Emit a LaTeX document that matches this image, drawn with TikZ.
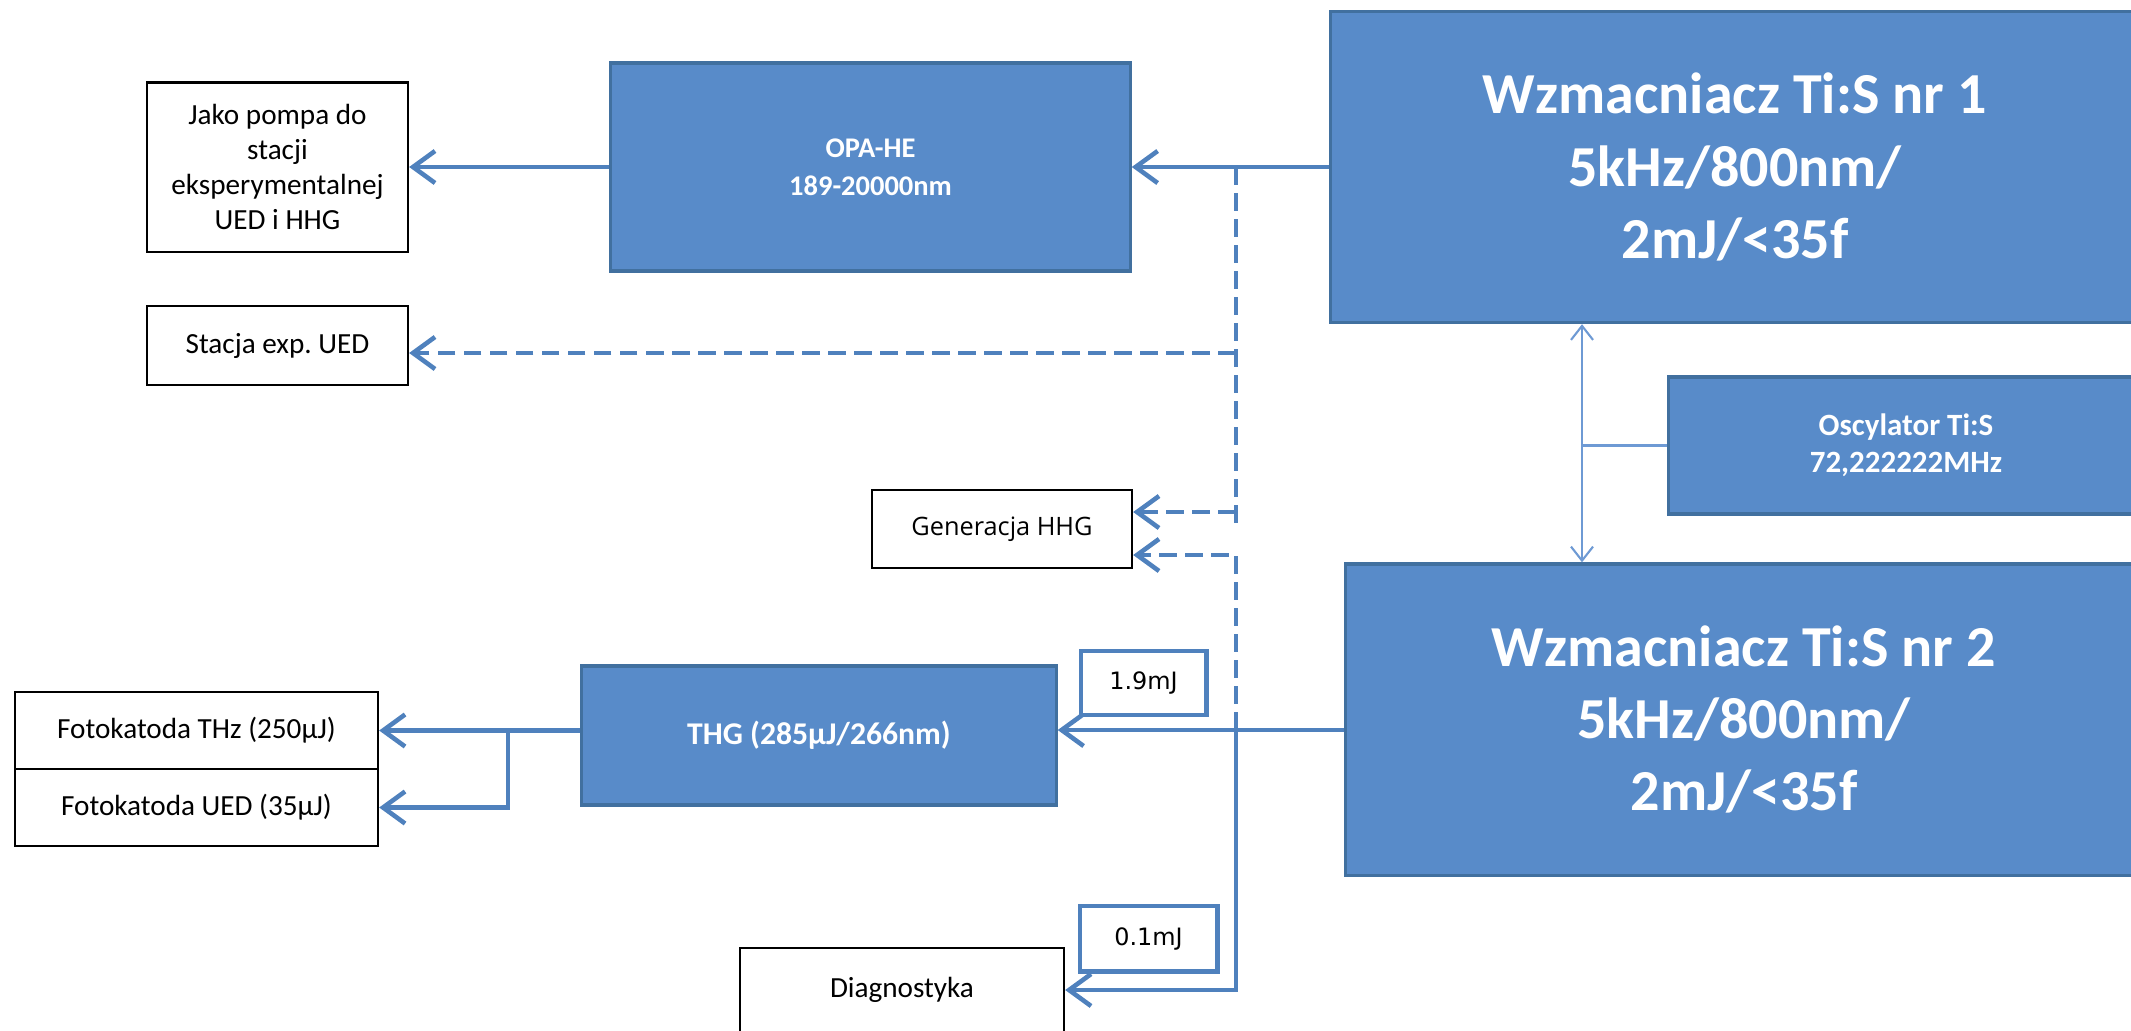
\documentclass[tikz,border=0pt]{standalone}
\usepackage{fontspec}
\setmainfont{Carlito}
\newfontfamily\tagfont{DejaVu Sans}
\newfontfamily\genfont{Open Sans}
\usetikzlibrary{arrows.meta,positioning}
\frenchspacing
\definecolor{Accent}{HTML}{4F81BD}
\definecolor{BoxFill}{HTML}{588BC9}
\definecolor{BoxEdge}{HTML}{41709F}
\definecolor{Thin}{HTML}{6E9AD4}
\tikzset{
  arr/.style={-{Straight Barb[length=2.2mm,width=3.2mm]},line width=1.3pt,draw=Accent},
  darr/.style={arr,dash pattern=on 5pt off 2.4pt},
  dline/.style={line width=1.3pt,draw=Accent,dash pattern=on 5pt off 2.4pt},
  thinline/.style={line width=0.6pt,draw=Thin},
  thinarr/.style={thinline,-{Straight Barb[length=1.4mm,width=2.2mm]}},
  bluebox/.style={draw=BoxEdge,fill=BoxFill,line width=0.9pt,text=white,align=center},
  whitebox/.style={draw=black,fill=white,line width=0.6pt,align=center,font=\fontsize{8.3}{10}\selectfont},
  tagbox/.style={draw=Accent,fill=white,line width=1.4pt,align=center,font=\tagfont\fontsize{6.8}{8}\selectfont}
}
\begin{document}
\begin{tikzpicture}[x=0.01cm,y=-0.01cm]
  \useasboundingbox (0,0) rectangle (2131,1030);
  \node[bluebox,minimum width=8.08cm,minimum height=3.11cm,font=\bfseries\fontsize{16.5}{20.5}\selectfont] (amp1) at (1735,167) {Wzmacniacz Ti:S nr 1\\5kHz/800nm/\\2mJ/<35f};
  \node[bluebox,minimum width=5.19cm,minimum height=2.08cm,font=\bfseries\fontsize{8.1}{10.8}\selectfont] (opa) at (870.5,167) {OPA-HE\\189-20000nm};
  \node[whitebox,minimum width=2.61cm,minimum height=1.69cm] (pump) at (277.5,167) {Jako pompa do\\stacji\\eksperymentalnej\\UED i HHG};
  \node[whitebox,minimum width=2.61cm,minimum height=0.79cm] (station) at (277.5,345.5) {Stacja exp. UED};
  \node[whitebox,minimum width=2.6cm,minimum height=0.78cm,font=\genfont\fontsize{7.2}{9}\selectfont] (hhg) at (1002,529) {Generacja HHG};
  \node[bluebox,minimum width=4.74cm,minimum height=1.37cm,font=\bfseries\fontsize{8.8}{10.5}\selectfont] (osc) at (1906,445.5) {Oscylator Ti:S\\72,222222MHz};
  \node[bluebox,minimum width=7.96cm,minimum height=3.11cm,font=\bfseries\fontsize{16.5}{20.5}\selectfont] (amp2) at (1744,719.5) {Wzmacniacz Ti:S nr 2\\5kHz/800nm/\\2mJ/<35f};
  \node[bluebox,minimum width=4.74cm,minimum height=1.39cm,font=\bfseries\fontsize{9}{11}\selectfont] (thg) at (819,735.5) {THG (285µJ/266nm)};
  \node[whitebox,minimum width=3.63cm,minimum height=0.77cm] (thz) at (196.5,730.5) {Fotokatoda THz (250µJ)};
  \node[whitebox,minimum width=3.63cm,minimum height=0.77cm] (cath) at (196.5,807.5) {Fotokatoda UED (35µJ)};
  \node[tagbox,minimum width=1.25cm,minimum height=0.64cm] (e19) at (1143.5,683) {1.9mJ};
  \node[tagbox,minimum width=1.37cm,minimum height=0.65cm] (e01) at (1148.5,938.5) {0.1mJ};
  \node[whitebox,minimum width=3.24cm,minimum height=0.84cm] (diag) at (902,990) {Diagnostyka};
  \coordinate (tap1) at (1236,167);
  \coordinate (drop1) at (1236,353);
  \coordinate (drop2) at (1236,512);
  \coordinate (tail) at (1236,524);
  \coordinate (tap2) at (1236,730);
  \coordinate (bend) at (1236,555);
  \coordinate (fork) at (508,730.5);
  \coordinate (clk) at (1582,445.5);
  \draw[arr] (amp1) -- (opa); \draw[arr] (opa) -- (pump);
  \draw[dline] (tap1) -- (tail);
  \draw[darr] (drop1) -- (drop1 -| station.east); \draw[darr] (drop2) -- (drop2 -| hhg.east);
  \draw[darr] (tap2) -- (bend) -- (bend -| hhg.east);
  \draw[arr] (tap2) |- (diag.east);
  \draw[arr] (amp2.west |- tap2) -- (thg.east |- tap2);
  \draw[arr] (thg.west |- thz) -- (thz.east); \draw[arr] (fork) |- (cath.east);
  \draw[thinline] (osc.west) -- (clk);
  \draw[thinarr] (clk) -- (clk |- amp1.south); \draw[thinarr] (clk) -- (clk |- amp2.north);
\end{tikzpicture}
\end{document}
